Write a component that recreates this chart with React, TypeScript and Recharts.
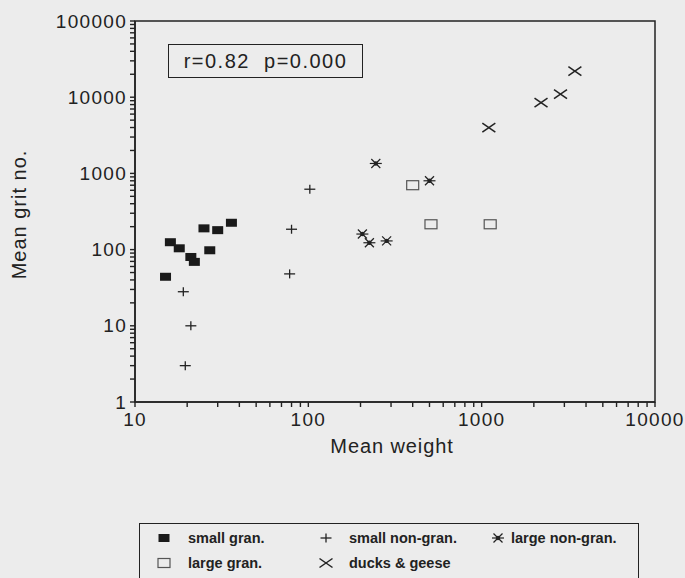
import React from "react";
import {
  ScatterChart,
  Scatter,
  XAxis,
  YAxis,
  ReferenceArea,
} from "recharts";

// values (mean weight, mean grit no.)
const smallGran = [
  { w: 15, g: 44 },
  { w: 16, g: 125 },
  { w: 18, g: 104 },
  { w: 21, g: 80 },
  { w: 22, g: 69 },
  { w: 25, g: 190 },
  { w: 27, g: 98 },
  { w: 30, g: 180 },
  { w: 36, g: 225 },
];
const smallNonGran = [
  { w: 19, g: 28 },
  { w: 21, g: 10 },
  { w: 19.5, g: 3 },
  { w: 78, g: 48 },
  { w: 80, g: 185 },
  { w: 102, g: 620 },
];
const largeNonGran = [
  { w: 205, g: 160 },
  { w: 225, g: 123 },
  { w: 245, g: 1350 },
  { w: 283, g: 130 },
  { w: 500, g: 800 },
];
const largeGran = [
  { w: 400, g: 700 },
  { w: 510, g: 215 },
  { w: 1120, g: 215 },
];
const ducksGeese = [
  { w: 1100, g: 4000 },
  { w: 2200, g: 8500 },
  { w: 2850, g: 11000 },
  { w: 3450, g: 22000 },
];

const xMajor = [10, 100, 1000, 10000];
const yMajor = [1, 10, 100, 1000, 10000, 100000];
const minorSteps = [1, 2, 3, 4, 5, 6, 7, 8, 9];

const withMinors = (majors: number[]) => {
  const out: number[] = [];
  majors.forEach((m, i) => {
    if (i === majors.length - 1) out.push(m);
    else minorSteps.forEach((s) => out.push(m * s));
  });
  return out;
};
const xTicks = withMinors(xMajor);
const yTicks = withMinors(yMajor);

const INK = "#222";
const FONT = "'Liberation Sans', Arial, Helvetica, sans-serif";

// labels only on the decades; the tick marks come from the axis itself
const YTick = (props: any) => {
  const { x, y, payload } = props;
  if (!yMajor.includes(payload.value)) return <g />;
  return (
    <text
      x={x}
      y={y}
      textAnchor="end"
      dominantBaseline="central"
      fill={INK}
      stroke="none"
      style={{ fontFamily: FONT, fontSize: 19, letterSpacing: 1.3 }}
    >
      {payload.value}
    </text>
  );
};

const XTick = (props: any) => {
  const { x, y, payload } = props;
  if (!xMajor.includes(payload.value)) return <g />;
  return (
    <text
      x={x}
      y={y + 17}
      textAnchor="middle"
      fill={INK}
      stroke="none"
      style={{ fontFamily: FONT, fontSize: 19, letterSpacing: 1.3 }}
    >
      {payload.value}
    </text>
  );
};

const FilledSquare = ({ cx, cy }: any) => (
  <rect x={cx - 5.5} y={cy - 4} width={11} height={8} fill="#1a1a1a" />
);
const OpenSquare = ({ cx, cy }: any) => (
  <rect x={cx - 6} y={cy - 4.5} width={12} height={9} fill="none" stroke="#555" strokeWidth={1.2} />
);
const Plus = ({ cx, cy }: any) => (
  <g stroke={INK} strokeWidth={1.3}>
    <line x1={cx - 5.5} x2={cx + 5.5} y1={cy} y2={cy} />
    <line x1={cx} x2={cx} y1={cy - 4.5} y2={cy + 4.5} />
  </g>
);
const Star = ({ cx, cy }: any) => (
  <g stroke={INK} strokeWidth={1.2}>
    <line x1={cx - 6} x2={cx + 6} y1={cy} y2={cy} />
    <line x1={cx - 4.5} x2={cx + 4.5} y1={cy - 4.5} y2={cy + 4.5} />
    <line x1={cx - 4.5} x2={cx + 4.5} y1={cy + 4.5} y2={cy - 4.5} />
    <circle cx={cx} cy={cy} r={1.6} fill={INK} />
  </g>
);
const Cross = ({ cx, cy }: any) => (
  <g stroke={INK} strokeWidth={1.5}>
    <line x1={cx - 6.5} x2={cx + 6.5} y1={cy - 4.5} y2={cy + 4.5} />
    <line x1={cx - 6.5} x2={cx + 6.5} y1={cy + 4.5} y2={cy - 4.5} />
  </g>
);

const legendItems = [
  { label: "small gran.", Shape: FilledSquare, col: 0, row: 0 },
  { label: "small non-gran.", Shape: Plus, col: 1, row: 0 },
  { label: "large non-gran.", Shape: Star, col: 2, row: 0 },
  { label: "large gran.", Shape: OpenSquare, col: 0, row: 1 },
  { label: "ducks & geese", Shape: Cross, col: 1, row: 1 },
];
const legendMarkerX = [24, 186, 358];
const legendTextX = [48, 209, 371];
const legendRowY = [14, 39];

export default function App() {
  return (
    <div
      style={{
        position: "absolute",
        left: 0,
        top: 0,
        width: 685,
        height: 578,
        background: "#ececec",
        overflow: "hidden",
        fontFamily: FONT,
      }}
    >
      <ScatterChart
        width={685}
        height={578}
        margin={{ top: 21, right: 30, left: 75, bottom: 121 }}
      >
        <XAxis
          type="number"
          dataKey="w"
          scale="log"
          domain={[10, 10000]}
          allowDataOverflow
          ticks={xTicks}
          interval={0}
          tickLine={{ stroke: INK, strokeWidth: 1.4 }}
          tickSize={5}
          tickMargin={2}
          tick={XTick}
          height={55}
          axisLine={{ stroke: INK, strokeWidth: 1.5 }}
          label={{
            content: ({ viewBox }: any) => (
              <text
                x={viewBox.x + viewBox.width / 2 - 3}
                y={viewBox.y + 51}
                textAnchor="middle"
                fill={INK}
                style={{ fontFamily: FONT, fontSize: 20, letterSpacing: 0.9 }}
              >
                Mean weight
              </text>
            ),
          }}
        />
        <YAxis
          type="number"
          dataKey="g"
          scale="log"
          domain={[1, 100000]}
          allowDataOverflow
          ticks={yTicks}
          interval={0}
          tickLine={{ stroke: INK, strokeWidth: 1.4 }}
          tickSize={5}
          tickMargin={3}
          tick={YTick}
          width={60}
          axisLine={{ stroke: INK, strokeWidth: 1.5 }}
          label={{
            content: ({ viewBox }: any) => {
              const cx = viewBox.x + viewBox.width - 116;
              const cy = viewBox.y + viewBox.height / 2 + 3;
              return (
                <text
                  x={cx}
                  y={cy}
                  transform={`rotate(-90 ${cx} ${cy})`}
                  textAnchor="middle"
                  dominantBaseline="central"
                  fill={INK}
                  style={{ fontFamily: FONT, fontSize: 20, letterSpacing: 1 }}
                >
                  Mean grit no.
                </text>
              );
            },
          }}
        />
        <ReferenceArea
          x1={10}
          x2={10000}
          y1={1}
          y2={100000}
          fill="none"
          fillOpacity={0}
          stroke={INK}
          strokeWidth={1.5}
        />
        <Scatter data={smallGran} shape={<FilledSquare />} isAnimationActive={false} />
        <Scatter data={smallNonGran} shape={<Plus />} isAnimationActive={false} />
        <Scatter data={largeNonGran} shape={<Star />} isAnimationActive={false} />
        <Scatter data={largeGran} shape={<OpenSquare />} isAnimationActive={false} />
        <Scatter data={ducksGeese} shape={<Cross />} isAnimationActive={false} />
      </ScatterChart>

      <div
        style={{
          position: "absolute",
          left: 168,
          top: 44,
          width: 195,
          height: 34,
          boxSizing: "border-box",
          border: `1.5px solid ${INK}`,
          display: "flex",
          alignItems: "center",
          justifyContent: "center",
          fontSize: 20,
          letterSpacing: 1.5,
          color: INK,
          whiteSpace: "pre",
        }}
      >
        {"r=0.82  p=0.000"}
      </div>

      <div
        style={{
          position: "absolute",
          left: 139,
          top: 523,
          width: 500,
          height: 80,
          boxSizing: "border-box",
          border: `1.5px solid ${INK}`,
        }}
      >
        {legendItems.map(({ label, Shape, col, row }) => (
          <React.Fragment key={label}>
            <svg
              width={20}
              height={16}
              style={{
                position: "absolute",
                left: legendMarkerX[col] - 10,
                top: legendRowY[row] - 8,
              }}
            >
              <Shape cx={10} cy={8} />
            </svg>
            <span
              style={{
                position: "absolute",
                left: legendTextX[col],
                top: legendRowY[row] - 9,
                fontSize: 14.5,
                fontWeight: "bold",
                lineHeight: "18px",
                color: INK,
                whiteSpace: "nowrap",
              }}
            >
              {label}
            </span>
          </React.Fragment>
        ))}
      </div>
    </div>
  );
}
